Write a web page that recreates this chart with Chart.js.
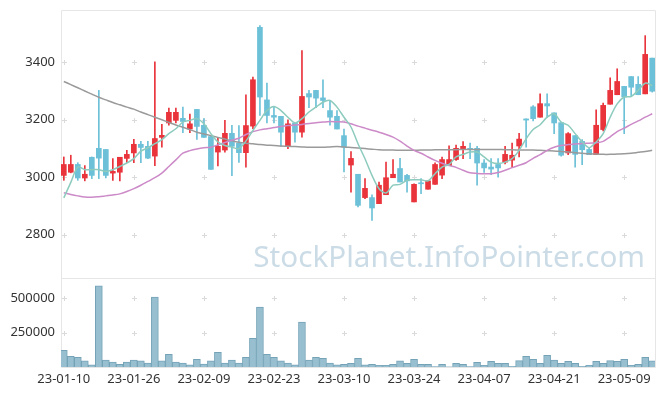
<!DOCTYPE html>
<html>
<head>
<meta charset="utf-8">
<script src="https://cdn.jsdelivr.net/npm/chart.js@4.4.0/dist/chart.umd.min.js"></script>
<style>
  html, body { margin: 0; padding: 0; background: #fff; }
</style>
</head>
<body>
<canvas id="chart" width="665" height="396"></canvas>
<script>
// Trading days (one per candle)
const dates = [
    '23-01-10','23-01-11','23-01-12','23-01-13','23-01-16','23-01-17','23-01-18','23-01-19','23-01-20','23-01-25',
    '23-01-26','23-01-27','23-01-30','23-01-31','23-02-01','23-02-02','23-02-03','23-02-06','23-02-07','23-02-08',
    '23-02-09','23-02-10','23-02-13','23-02-14','23-02-15','23-02-16','23-02-17','23-02-20','23-02-21','23-02-22',
    '23-02-23','23-02-24','23-02-27','23-02-28','23-03-02','23-03-03','23-03-06','23-03-07','23-03-08','23-03-09',
    '23-03-10','23-03-13','23-03-14','23-03-15','23-03-16','23-03-17','23-03-20','23-03-21','23-03-22','23-03-23',
    '23-03-24','23-03-27','23-03-28','23-03-29','23-03-30','23-03-31','23-04-03','23-04-04','23-04-05','23-04-06',
    '23-04-07','23-04-10','23-04-11','23-04-12','23-04-13','23-04-14','23-04-17','23-04-18','23-04-19','23-04-20',
    '23-04-21','23-04-24','23-04-25','23-04-26','23-04-27','23-04-28','23-05-02','23-05-03','23-05-04','23-05-08',
    '23-05-09','23-05-10','23-05-11','23-05-12','23-05-15'
];

const opens = [
    3006,3017,3044,2997,3069,3100,3096,3014,3017,3065, 3084,3114,3107,3073,3138,3188,3197,3204,3167,3235,
    3180,3141,3087,3094,3152,3118,3085,3177,3520,3268, 3214,3211,3107,3188,3156,3290,3301,3275,3231,3211,
    3144,3042,3010,2929,2929,2908,2939,2998,3030,3006, 2914,2980,2958,2975,3007,3040,3061,3096,3100,3100,
    3049,3035,3044,3052,3059,3108,3202,3244,3208,3255, 3223,3189,3084,3144,3124,3096,3078,3165,3253,3286,
    3315,3349,3322,3289,3413
];
const highs = [
    3070,3076,3050,3040,3070,3301,3096,3064,3069,3093, 3131,3124,3124,3400,3183,3240,3240,3243,3219,3235,
    3203,3141,3138,3197,3180,3179,3286,3347,3526,3326, 3243,3211,3199,3188,3439,3301,3301,3338,3266,3231,
    3167,3089,3010,2995,2939,2983,3052,3061,3065,3010, 2977,2995,2987,3050,3070,3109,3111,3123,3118,3107,
    3061,3064,3064,3107,3118,3152,3202,3248,3289,3289, 3223,3189,3155,3144,3130,3101,3234,3257,3345,3376,
    3315,3349,3349,3491,3413
];
const lows = [
    2989,3015,2989,2987,2995,2995,2997,2989,2987,3050, 3050,3050,3064,3040,3104,3180,3188,3154,3154,3131,
    3138,3027,3039,3087,3005,3051,3035,3168,3214,3188, 3188,3107,3099,3121,3139,3241,3241,3241,3180,3167,
    3018,2948,2897,2925,2850,2908,2939,2998,2983,2948, 2914,2943,2958,2975,2995,3040,3058,3064,3064,2972,
    3016,3009,3000,3046,3034,3070,3104,3195,3208,3208, 3151,3073,3078,3035,3043,3078,3078,3160,3253,3286,
    3151,3280,3286,3289,3295
];
const closes = [
    3044,3044,2997,3010,3006,3066,3006,3020,3069,3079, 3114,3103,3066,3134,3145,3225,3225,3193,3185,3176,
    3138,3027,3107,3152,3107,3085,3179,3338,3278,3214, 3208,3156,3185,3156,3280,3278,3274,3266,3208,3167,
    3104,3065,2902,2961,2893,2972,2998,3010,2983,2987, 2975,2977,2987,3044,3061,3061,3100,3107,3096,3049,
    3032,3028,3032,3079,3076,3132,3198,3203,3255,3247, 3188,3076,3151,3079,3095,3078,3180,3249,3301,3332,
    3278,3312,3286,3426,3298
];
const volumes = [
    122000,78000,71000,44000,15000,590000,51000,36000,19000,36000, 51000,44000,29000,508000,44000,92000,36000,29000,15000,56000,
    22000,44000,107000,29000,51000,29000,71000,209000,435000,92000, 71000,44000,29000,15000,326000,51000,71000,63000,29000,15000,
    19000,26000,63000,15000,19000,12000,12000,19000,44000,26000, 56000,19000,19000,2400,19000,1000,26000,19000,2400,34000,
    12000,41000,26000,26000,4900,46000,78000,56000,26000,85000, 51000,26000,41000,26000,4900,12000,41000,26000,46000,41000,
    56000,12000,19000,71000,44000
];

// Moving averages as drawn
const ma5 = [
    2928,2982,3035,3026,3026,3026,3020,3026,3037,3049, 3064,3090,3102,3116,3130,3151,3168,3191,3197,3203,
    3185,3151,3122,3110,3104,3099,3125,3162,3197,3231, 3245,3231,3208,3188,3203,3226,3243,3260,3266,3243,
    3208,3174,3116,3064,3006,2960,2945,2972,2975,2989, 2991,2991,2987,3012,3035,3044,3070,3079,3087,3087,
    3070,3052,3047,3052,3064,3093,3133,3165,3182,3208, 3220,3191,3180,3151,3122,3102,3122,3151,3208,3254,
    3278,3280,3301,3326,3318
];
const ma20 = [
    2946,2940,2935,2931,2930,2932,2935,2938,2942,2950, 2960,2972,2985,2998,3014,3037,3060,3083,3092,3098,
    3102,3104,3112,3120,3128,3135,3148,3158,3164,3168, 3172,3176,3179,3181,3183,3186,3189,3191,3193,3192,
    3191,3185,3177,3170,3163,3156,3148,3139,3125,3108, 3093,3083,3070,3058,3048,3040,3034,3024,3015,3013,
    3012,3012,3016,3024,3033,3041,3050,3065,3078,3093, 3104,3110,3113,3115,3117,3118,3119,3124,3140,3158,
    3170,3183,3195,3208,3220
];
const ma60 = [
    3332,3321,3310,3299,3288,3277,3268,3259,3251,3243, 3236,3226,3217,3208,3199,3190,3181,3173,3165,3156,
    3150,3144,3138,3132,3126,3121,3118,3116,3113,3111, 3110,3108,3107,3106,3105,3104,3104,3104,3105,3106,
    3105,3103,3101,3099,3097,3095,3094,3094,3093,3093, 3093,3094,3094,3095,3095,3095,3095,3096,3096,3096,
    3096,3096,3096,3095,3095,3094,3094,3094,3093,3092, 3091,3089,3087,3085,3083,3081,3080,3079,3079,3080,
    3081,3083,3086,3089,3093
];

// Axis ticks
const dateTicks = [0, 10, 20, 30, 40, 50, 60, 70, 80];
const priceTicks = [2800, 3000, 3200, 3400];
const volumeTicks = [250000, 500000];

const upColor = '#e9343c';
const downColor = '#6cc1d8';
const labelFont = { family: '"Noto Sans", sans-serif', size: 13 };
const labelColor = '#333333';

const candleColors = opens.map((o, i) => closes[i] >= o ? upColor : downColor);
const idx = dates.map((d, i) => i);

// y axes keep a fixed width and add no label overhang above/below
function fitLeftAxis(scale) {
    scale.width = 61;
    scale.paddingTop = 0;
    scale.paddingBottom = 0;
}

// grid crosses, panel frame and watermark
const decorPlugin = {
    id: 'decor',
    beforeDatasetsDraw(chart) {
        const { ctx, chartArea: area, scales } = chart;
        ctx.save();

        ctx.font = '30px "Noto Sans", sans-serif';
        const mark = 'StockPlanet.InfoPointer.com';
        const size = 30 * 392 / ctx.measureText(mark).width;
        ctx.font = size + 'px "Noto Sans", sans-serif';
        ctx.fillStyle = '#cbdce7';
        ctx.textAlign = 'right';
        ctx.textBaseline = 'alphabetic';
        ctx.fillText(mark, area.right - 10, scales.y.bottom - 11);

        ctx.strokeStyle = '#dadada';
        ctx.lineWidth = 1;
        const xs = dateTicks.map(v => Math.round(scales.x.getPixelForValue(v)) + 0.5);
        const ys = priceTicks.map(v => scales.y.getPixelForValue(v))
            .concat(volumeTicks.map(v => scales.yv.getPixelForValue(v)))
            .map(v => Math.round(v) + 0.5);
        ctx.beginPath();
        xs.forEach(x => ys.forEach(y => {
            ctx.moveTo(x - 2.5, y); ctx.lineTo(x + 2.5, y);
            ctx.moveTo(x, y - 2.5); ctx.lineTo(x, y + 2.5);
        }));
        ctx.stroke();

        ctx.strokeStyle = '#e6e6e6';
        ctx.beginPath();
        ctx.rect(Math.round(area.left) + 0.5, Math.round(area.top) + 0.5,
            Math.round(area.right - area.left), Math.round(area.bottom - area.top));
        const split = Math.round(scales.y.bottom) + 0.5;
        ctx.moveTo(area.left, split);
        ctx.lineTo(area.right, split);
        ctx.stroke();
        ctx.restore();
    }
};

const ctx = document.getElementById('chart');
new Chart(ctx, {
    type: 'bar',
    data: {
        datasets: [
            {
                type: 'line', label: 'MA5', yAxisID: 'y',
                data: idx.map(i => ({ x: i, y: ma5[i] })),
                borderColor: '#8ccbbd', borderWidth: 1.5, pointRadius: 0, tension: 0.3
            },
            {
                type: 'line', label: 'MA20', yAxisID: 'y',
                data: idx.map(i => ({ x: i, y: ma20[i] })),
                borderColor: '#cc8ac8', borderWidth: 1.5, pointRadius: 0, tension: 0.3
            },
            {
                type: 'line', label: 'MA60', yAxisID: 'y',
                data: idx.map(i => ({ x: i, y: ma60[i] })),
                borderColor: '#9a9a9a', borderWidth: 1.5, pointRadius: 0, tension: 0.3
            },
            {
                label: 'Body', yAxisID: 'y', grouped: false,
                data: idx.map(i => ({ x: i, y: [opens[i], closes[i]] })),
                backgroundColor: candleColors, barThickness: 5, minBarLength: 1
            },
            {
                label: 'Wick', yAxisID: 'y', grouped: false,
                data: idx.map(i => ({ x: i, y: [lows[i], highs[i]] })),
                backgroundColor: candleColors, barThickness: 1
            },
            {
                label: 'Volume', yAxisID: 'yv', grouped: false,
                data: idx.map(i => ({ x: i, y: volumes[i] })),
                backgroundColor: '#98bfcf', borderColor: '#74a3b8', borderWidth: 1, barThickness: 7
            }
        ]
    },
    options: {
        responsive: false,
        animation: false,
        layout: { padding: { top: 10, right: 10, left: 0, bottom: 0 } },
        plugins: {
            legend: { display: false },
            tooltip: { enabled: false }
        },
        scales: {
            x: {
                type: 'linear',
                offset: false,
                min: -0.4,
                max: 84.4,
                grid: { display: false, drawTicks: false, offset: false },
                border: { display: false },
                afterBuildTicks: scale => { scale.ticks = dateTicks.map(v => ({ value: v })); },
                afterFit: scale => { scale.height = 29; },
                ticks: {
                    autoSkip: false, maxRotation: 0, padding: 4,
                    color: labelColor, font: labelFont,
                    callback: value => dates[value]
                }
            },
            yv: {
                position: 'left',
                stack: 'panels',
                stackWeight: 89,
                min: 0,
                max: 647000,
                grid: { display: false, drawTicks: false },
                border: { display: false },
                afterBuildTicks: scale => { scale.ticks = volumeTicks.map(v => ({ value: v })); },
                afterFit: fitLeftAxis,
                ticks: { padding: 6, color: labelColor, font: labelFont, callback: v => String(v) }
            },
            y: {
                position: 'left',
                stack: 'panels',
                stackWeight: 268,
                min: 2650,
                max: 3580,
                grid: { display: false, drawTicks: false },
                border: { display: false },
                afterBuildTicks: scale => { scale.ticks = priceTicks.map(v => ({ value: v })); },
                afterFit: fitLeftAxis,
                ticks: { padding: 6, color: labelColor, font: labelFont, callback: v => String(v) }
            }
        }
    },
    plugins: [decorPlugin]
});
</script>
</body>
</html>
